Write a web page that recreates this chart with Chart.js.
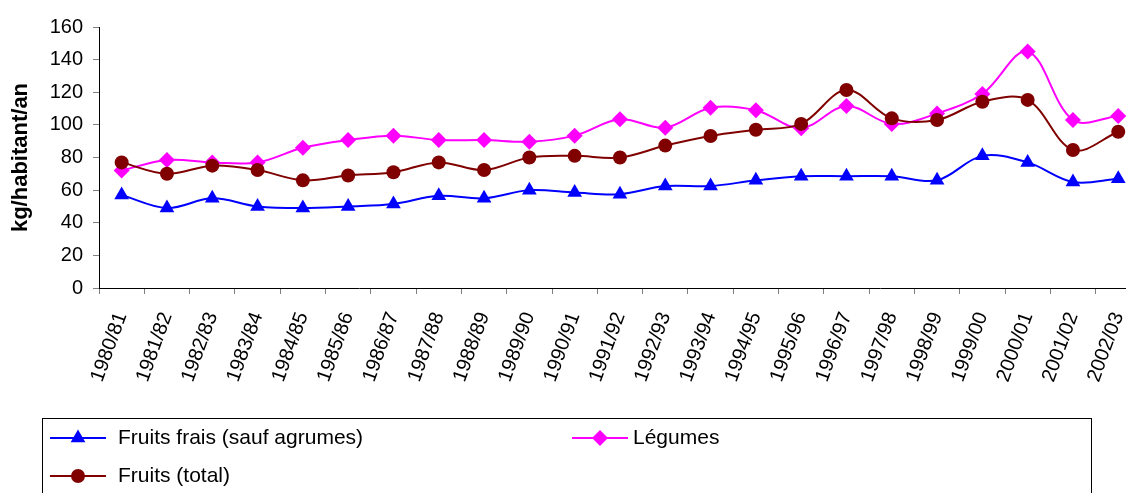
<!DOCTYPE html>
<html>
<head>
<meta charset="utf-8">
<script src="https://cdn.jsdelivr.net/npm/chart.js@4/dist/chart.umd.min.js"></script>
<style>
  html, body { margin: 0; padding: 0; overflow: hidden; background: #fff; }
  #wrap { width: 1156px; height: 493px; }
</style>
</head>
<body>
<div id="wrap"><canvas id="c" width="1156" height="493"></canvas></div>
<script>
// campagnes (x categories)
const campagnes = ['1980/81', '1981/82', '1982/83', '1983/84', '1984/85', '1985/86', '1986/87', '1987/88',
  '1988/89', '1989/90', '1990/91', '1991/92', '1992/93', '1993/94', '1994/95', '1995/96', '1996/97',
  '1997/98', '1998/99', '1999/00', '2000/01', '2001/02', '2002/03'];

// kg/habitant/an
const fruitsFrais = [57, 49, 55, 50, 49, 50, 51.5, 56.5, 55, 60, 58.5, 57.5, 62.5, 62.5, 66, 68.5, 68.5, 68.5, 66, 81, 77, 65, 67];
const legumes = [72, 78.5, 77, 77, 86, 90.7, 93.4, 90.7, 90.7, 89.7, 93.4, 103.4, 98.3, 110.5, 109, 98, 111.6, 100.6, 107, 119, 145, 103, 105.5];
const fruitsTotal = [77, 70, 75, 72.3, 66, 69, 71, 77, 72.3, 80, 81, 80, 87.3, 93.2, 97, 100.6, 121.4, 104, 103, 114.2, 115.3, 84.6, 95.8];

const yMin = 0, yMax = 160, yStep = 20;

const FONT = 'Arial, "Liberation Sans", sans-serif';

function serie(label, data, color, style, radius, order) {
    return {
        label: label,
        data: data,
        borderColor: color,
        backgroundColor: color,
        borderWidth: 2,
        pointStyle: style,
        pointRadius: radius,
        pointHoverRadius: radius,
        pointBorderWidth: 0,
        tension: 0.35,
        order: order
    };
}

// legend drawn by hand: boxed, two columns like the spreadsheet one
const legendBox = {
    id: 'legendBox',
    afterDraw(chart) {
        const ctx = chart.ctx;
        const slots = [[50, 438, 68], [572, 438, 61], [50, 476, 68]];
        ctx.save();
        ctx.strokeStyle = '#000';
        ctx.lineWidth = 1;
        ctx.strokeRect(42.5, 418.5, 1049, 120);
        chart.data.datasets.forEach((ds, i) => {
            const [x, y, tx] = slots[i];
            ctx.strokeStyle = ds.borderColor;
            ctx.fillStyle = ds.backgroundColor;
            ctx.lineWidth = 2;
            ctx.beginPath();
            ctx.moveTo(x, y);
            ctx.lineTo(x + 56, y);
            ctx.stroke();
            Chart.helpers.drawPoint(ctx, { pointStyle: ds.pointStyle, radius: ds.pointRadius, rotation: 0, borderWidth: 0 }, x + 28, y);
            ctx.fillStyle = '#000';
            ctx.font = '21px ' + FONT;
            ctx.textBaseline = 'middle';
            ctx.fillText(ds.label, x + tx, y);
        });
        ctx.restore();
    }
};

new Chart(document.getElementById('c').getContext('2d'), {
    type: 'line',
    data: {
        labels: campagnes,
        datasets: [
            serie('Fruits frais (sauf agrumes)', fruitsFrais, '#0000ff', 'triangle', 8.5, 2),
            serie('Légumes', legumes, '#ff00ff', 'rectRot', 8, 1),
            serie('Fruits (total)', fruitsTotal, '#800000', 'circle', 7, 0)
        ]
    },
    options: {
        responsive: false,
        animation: false,
        layout: { padding: { top: 27, right: 0, bottom: 75, left: 0 } },
        plugins: {
            legend: { display: false },
            tooltip: { enabled: false }
        },
        scales: {
            x: {
                offset: true,
                grid: { drawOnChartArea: false, tickLength: 6, color: '#808080', offset: true },
                border: { color: '#000', width: 1 },
                ticks: {
                    autoSkip: false, minRotation: 70, maxRotation: 70, padding: 15,
                    color: '#000', font: { family: FONT, size: 20 }
                },
                afterFit(s) { s.height = 130; }
            },
            y: {
                min: yMin,
                max: yMax,
                grid: { drawOnChartArea: false, tickLength: 6, color: '#808080' },
                border: { color: '#000', width: 1 },
                ticks: { stepSize: yStep, padding: 10, color: '#000', font: { family: FONT, size: 20 } },
                title: {
                    display: true,
                    text: 'kg/habitant/an',
                    color: '#000',
                    font: { family: FONT, size: 22, weight: 'bold' },
                    padding: { top: 8, bottom: 0 }
                },
                afterFit(s) { s.width = 99; }
            }
        }
    },
    plugins: [legendBox]
});
</script>
</body>
</html>
